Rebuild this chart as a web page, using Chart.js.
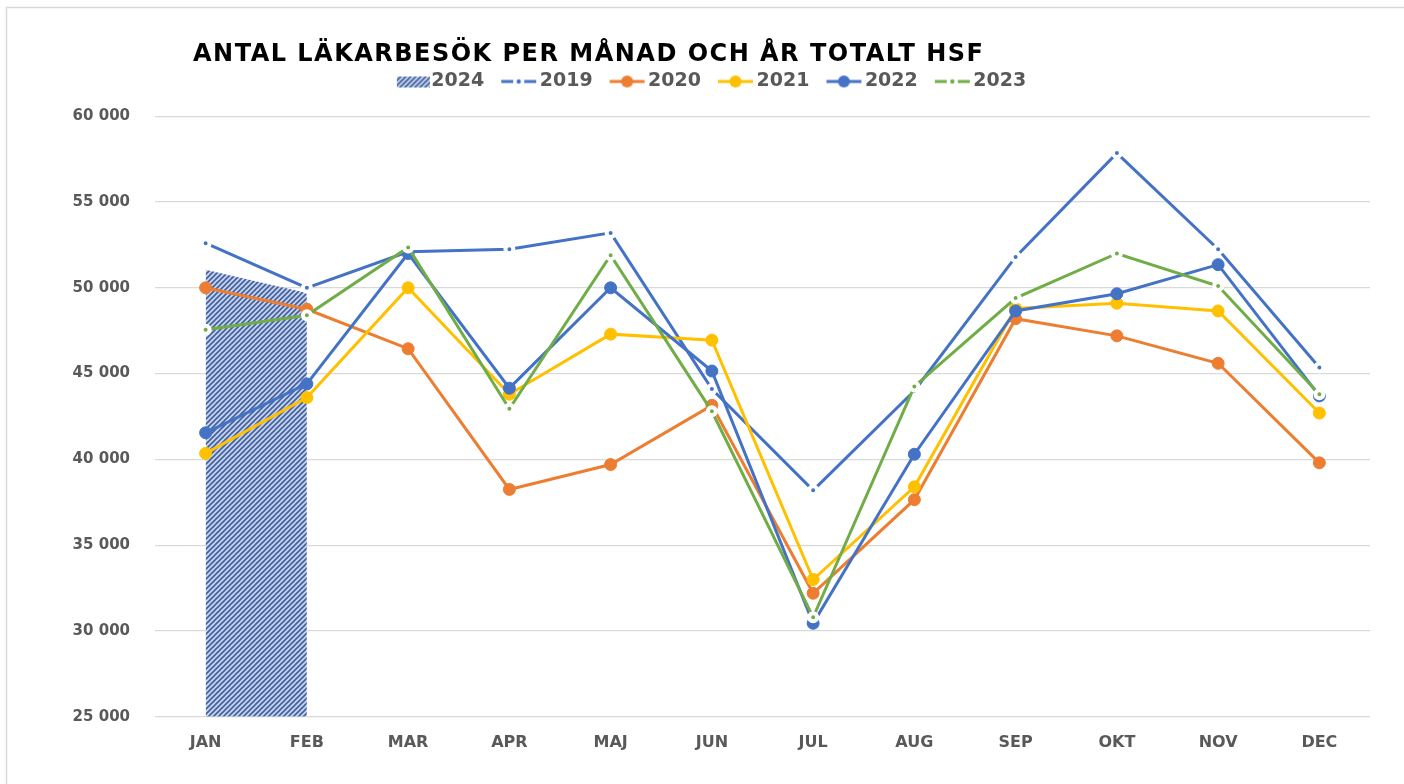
<!DOCTYPE html>
<html>
<head>
<meta charset="utf-8">
<script src="https://cdn.jsdelivr.net/npm/chart.js@4.4.1/dist/chart.umd.min.js"></script>
<style>
  html, body { margin: 0; padding: 0; background: #fff; }
  #wrap { width: 1404px; height: 784px; }
</style>
</head>
<body>
<div id="wrap"><canvas id="myChart" width="1404" height="784"></canvas></div>
<script>
var months = ['JAN', 'FEB', 'MAR', 'APR', 'MAJ', 'JUN', 'JUL', 'AUG', 'SEP', 'OKT', 'NOV', 'DEC'];
var years = ['2024', '2019', '2020', '2021', '2022', '2023'];
var v2024 = [51050, 49700, null, null, null, null, null, null, null, null, null, null];
var v2019 = [52600, 50000, 52100, 52250, 53200, 44100, 38200, 44000, 51800, 57850, 52250, 45350];
var v2020 = [50000, 48750, 46450, 38250, 39700, 43150, 32200, 37650, 48200, 47200, 45600, 39800];
var v2021 = [40350, 43600, 50000, 43800, 47300, 46950, 33000, 38400, 48800, 49100, 48650, 42700];
var v2022 = [41550, 44400, 52000, 44150, 50000, 45150, 30450, 40300, 48650, 49650, 51350, 43700];
var v2023 = [47550, 48400, 52350, 42950, 51900, 42800, 30800, 44250, 49400, 52000, 50100, 43800];
var yTicks = [25000, 30000, 35000, 40000, 45000, 50000, 55000, 60000];

var blue = '#4472C4', orange = '#ED7D31', yellow = '#FFC000', green = '#70AD47';
var labelFont = '"DejaVu Sans", sans-serif';

// diagonal hatch used by the 2024 area
function hatch() {
    var s = 5;
    var c = document.createElement('canvas');
    c.width = s; c.height = s;
    var g = c.getContext('2d');
    g.fillStyle = '#c6d3ee';
    g.fillRect(0, 0, s, s);
    g.strokeStyle = '#42609c';
    g.lineWidth = 1.6;
    g.beginPath();
    g.moveTo(0, s); g.lineTo(s, 0);
    g.moveTo(-1, 1); g.lineTo(1, -1);
    g.moveTo(s - 1, s + 1); g.lineTo(s + 1, s - 1);
    g.stroke();
    return g.createPattern(c, 'repeat');
}
var hatchFill = hatch();

// small legend icons
function icon(kind, color) {
    var c = document.createElement('canvas');
    c.width = 42; c.height = 16;
    var g = c.getContext('2d');
    if (kind === 'area') {
        g.fillStyle = hatchFill;
        g.fillRect(8, 3, 33, 11);
        return c;
    }
    g.strokeStyle = color;
    g.fillStyle = color;
    g.lineWidth = 3;
    g.beginPath();
    if (kind === 'small') {
        g.moveTo(4, 8); g.lineTo(16, 8);
        g.moveTo(27, 8); g.lineTo(39, 8);
        g.stroke();
        g.beginPath();
        g.arc(21.5, 8, 2.2, 0, Math.PI * 2);
        g.fill();
    } else {
        g.moveTo(4, 8); g.lineTo(39, 8);
        g.stroke();
        g.beginPath();
        g.arc(21.5, 8, 6, 0, Math.PI * 2);
        g.fill();
    }
    return c;
}
var icons = [icon('area'), icon('small', blue), icon('dot', orange), icon('dot', yellow), icon('dot', blue), icon('small', green)];

function lineSet(label, data, color, big, order) {
    return {
        type: 'line',
        label: label,
        data: data,
        borderColor: color,
        backgroundColor: color,
        borderWidth: 3,
        pointRadius: big ? 6 : 4,
        pointBorderWidth: big ? 1 : 4,
        pointBackgroundColor: color,
        pointBorderColor: big ? color : '#ffffff',
        fill: false,
        order: order
    };
}

var framePlugin = {
    id: 'frameAndTitle',
    beforeDraw: function(chart) {
        var ctx = chart.ctx;
        ctx.save();
        ctx.strokeStyle = '#d9d9d9';
        ctx.lineWidth = 1.5;
        ctx.strokeRect(6.5, 7.5, 1420, 800);
        ctx.restore();
    },
    afterDraw: function(chart) {
        var ctx = chart.ctx;
        var text = 'ANTAL LÄKARBESÖK PER MÅNAD OCH ÅR TOTALT HSF';
        ctx.save();
        ctx.font = 'bold 24px ' + labelFont;
        ctx.fillStyle = '#000000';
        ctx.textBaseline = 'middle';
        var w = ctx.measureText(text).width;
        var sp = (790 - w) / (text.length - 1);
        if ('letterSpacing' in ctx) {
            ctx.letterSpacing = sp + 'px';
            ctx.fillText(text, 193, 55);
        } else {
            var x = 193;
            for (var i = 0; i < text.length; i++) {
                ctx.fillText(text[i], x, 55);
                x += ctx.measureText(text[i]).width + sp;
            }
        }
        ctx.restore();
    }
};

var ctx = document.getElementById('myChart');
var myChart = new Chart(ctx, {
    data: {
        labels: months,
        datasets: [
            {
                type: 'line',
                label: years[0],
                data: v2024,
                borderWidth: 0,
                borderColor: 'rgba(0,0,0,0)',
                backgroundColor: hatchFill,
                pointRadius: 0,
                fill: 'start',
                order: 10
            },
            lineSet(years[1], v2019, blue, false, 5),
            lineSet(years[2], v2020, orange, true, 4),
            lineSet(years[3], v2021, yellow, true, 3),
            lineSet(years[4], v2022, blue, true, 2),
            lineSet(years[5], v2023, green, false, 1)
        ]
    },
    options: {
        responsive: false,
        animation: false,
        layout: { padding: { top: 50, left: 54, right: 34, bottom: 24 } },
        plugins: {
            tooltip: { enabled: false },
            // empty spacer box between legend and plot
            subtitle: {
                display: true,
                text: '',
                weight: 500,
                font: { size: 1 },
                padding: { top: 0, bottom: 14 }
            },
            legend: {
                position: 'top',
                labels: {
                    usePointStyle: true,
                    pointStyleWidth: 24,
                    padding: 22,
                    color: '#595959',
                    font: { family: labelFont, size: 19, weight: 'bold' },
                    generateLabels: function(chart) {
                        return chart.data.datasets.map(function(d, i) {
                            return {
                                text: d.label,
                                pointStyle: icons[i],
                                fillStyle: 'rgba(0,0,0,0)',
                                strokeStyle: 'rgba(0,0,0,0)',
                                lineWidth: 0,
                                fontColor: '#595959',
                                hidden: !chart.isDatasetVisible(i),
                                datasetIndex: i
                            };
                        });
                    }
                }
            }
        },
        scales: {
            x: {
                offset: true,
                grid: { display: false },
                border: { display: false },
                ticks: {
                    padding: 8,
                    color: '#595959',
                    font: { family: labelFont, size: 16, weight: 'bold' }
                }
            },
            y: {
                min: 25000,
                max: 60000,
                afterBuildTicks: function(scale) {
                    scale.ticks = yTicks.map(function(v) { return { value: v }; });
                },
                afterFit: function(scale) { scale.width = 101; },
                grid: { color: '#d9d9d9', lineWidth: 1.2, drawTicks: false },
                border: { display: false },
                ticks: {
                    padding: 25,
                    color: '#595959',
                    font: { family: labelFont, size: 15, weight: 'bold' },
                    callback: function(v) {
                        return String(v).replace(/\B(?=(\d{3})+(?!\d))/g, ' ');
                    }
                }
            }
        }
    },
    plugins: [framePlugin]
});
</script>
</body>
</html>
